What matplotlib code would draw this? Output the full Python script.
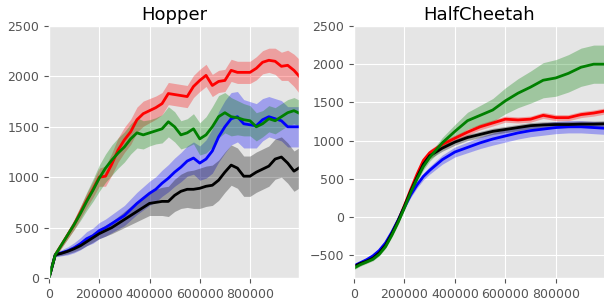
import numpy as np
import matplotlib
matplotlib.use('Agg')
import matplotlib.pyplot as plt

plt.style.use('ggplot')

# Hopper: steps every 25k
hop_steps = np.arange(0, 1000001, 25000)
hop_red = [0, 230, 330, 430, 530, 650, 770, 880, 1000, 1010, 1130, 1270, 1370, 1450, 1570,
           1630, 1660, 1690, 1730, 1830, 1820, 1810, 1800, 1900, 1960, 2010, 1910, 1950,
           1960, 2060, 2040, 2040, 2040, 2080, 2140, 2160, 2150, 2100, 2110, 2060, 1990]
hop_red_sd = [0, 20, 30, 40, 50, 60, 70, 80, 90, 100, 110, 120, 125, 125, 125,
              125, 120, 115, 110, 110, 110, 110, 110, 110, 110, 110, 110, 110,
              110, 110, 110, 110, 110, 115, 115, 120, 130, 140, 150, 160, 170]
hop_green = [0, 230, 330, 430, 530, 640, 760, 870, 990, 1090, 1170, 1240, 1300, 1380, 1440,
             1420, 1440, 1460, 1480, 1550, 1500, 1420, 1440, 1480, 1380, 1420, 1500, 1600,
             1640, 1600, 1590, 1570, 1560, 1500, 1530, 1580, 1560, 1600, 1640, 1660, 1630]
hop_green_sd = [0, 20, 30, 40, 50, 70, 90, 110, 130, 140, 150, 150, 150, 150, 150,
                140, 130, 130, 140, 150, 150, 140, 140, 150, 160, 180, 200, 210,
                200, 190, 170, 160, 150, 140, 130, 130, 130, 130, 130, 130, 130]
hop_blue = [0, 230, 250, 270, 300, 340, 390, 420, 470, 500, 540, 580, 620, 680, 740,
            790, 840, 880, 940, 990, 1050, 1100, 1160, 1190, 1140, 1180, 1260, 1400,
            1500, 1580, 1600, 1530, 1520, 1510, 1570, 1600, 1580, 1560, 1500, 1500, 1500]
hop_blue_sd = [0, 20, 30, 40, 50, 60, 70, 75, 80, 85, 90, 95, 100, 105, 110,
               115, 120, 125, 130, 135, 140, 145, 150, 160, 170, 190, 220, 250,
               260, 260, 250, 240, 230, 220, 210, 200, 200, 200, 200, 200, 200]
hop_black = [0, 230, 245, 265, 290, 320, 360, 400, 440, 470, 500, 540, 580, 620, 660,
             700, 740, 750, 760, 760, 820, 860, 880, 880, 890, 910, 920, 970,
             1050, 1120, 1090, 1010, 1010, 1050, 1080, 1110, 1180, 1200, 1140, 1060, 1100]
hop_black_sd = [0, 15, 20, 25, 30, 35, 40, 45, 50, 55, 60, 70, 80, 90, 100,
                110, 120, 130, 140, 150, 160, 170, 180, 190, 200, 200, 200, 200,
                200, 200, 200, 200, 200, 200, 200, 200, 200, 200, 200, 200, 200]

# HalfCheetah: finer steps during the fast rise, then every 50k
hc_steps = [0, 25000, 50000, 75000, 100000, 125000, 150000, 175000, 200000, 225000,
            250000, 275000, 300000, 350000, 400000, 450000, 500000, 550000, 600000,
            650000, 700000, 750000, 800000, 850000, 900000, 950000, 1000000]
hc_red = [-650, -610, -580, -540, -470, -370, -220, -50, 150, 360, 560, 740, 840,
          950, 1030, 1110, 1180, 1230, 1280, 1270, 1280, 1330, 1300, 1300, 1340, 1360, 1390]
hc_red_sd = [20, 20, 20, 20, 20, 22, 25, 28, 30, 32, 35, 38, 40,
             40, 40, 40, 40, 40, 40, 40, 40, 40, 40, 40, 40, 40, 40]
hc_green = [-670, -625, -590, -555, -490, -390, -240, -70, 120, 320, 500, 660, 780,
            970, 1120, 1260, 1330, 1400, 1520, 1620, 1700, 1790, 1820, 1880, 1960, 2000, 2000]
hc_green_sd = [20, 20, 20, 20, 20, 22, 25, 28, 30, 35, 40, 45, 50,
               70, 90, 110, 130, 150, 170, 190, 210, 230, 240, 245, 250, 250, 250]
hc_blue = [-640, -600, -560, -510, -440, -340, -200, -40, 130, 290, 420, 530, 610,
           750, 850, 910, 970, 1020, 1060, 1100, 1130, 1150, 1170, 1180, 1180, 1170, 1160]
hc_blue_sd = [20, 20, 20, 20, 20, 22, 25, 28, 30, 35, 40, 45, 50,
              60, 65, 70, 75, 80, 80, 80, 80, 80, 80, 80, 80, 80, 80]
hc_black = [-650, -610, -580, -540, -470, -370, -220, -50, 140, 340, 520, 690, 800,
            900, 980, 1040, 1080, 1120, 1145, 1170, 1195, 1205, 1210, 1210, 1215, 1215, 1220]
hc_black_sd = [20, 20, 20, 20, 20, 22, 25, 28, 30, 32, 35, 38, 40,
               40, 40, 40, 40, 40, 40, 40, 40, 40, 40, 40, 40, 40, 40]

fig = plt.figure(figsize=(6.04, 3.0), dpi=100)
ax1 = fig.add_axes([49 / 604, 22 / 300, 250 / 604, 252 / 300])
ax2 = fig.add_axes([354 / 604, 22 / 300, 251 / 604, 252 / 300])


def draw(ax, x, series):
    for mean, sd, c in series:
        mean = np.array(mean, dtype=float)
        sd = np.array(sd, dtype=float)
        ax.fill_between(x, mean - sd, mean + sd, color=c, alpha=0.3, linewidth=0)
        ax.plot(x, mean, color=c, linewidth=2)


draw(ax1, hop_steps, [(hop_red, hop_red_sd, 'r'), (hop_blue, hop_blue_sd, 'b'),
                      (hop_black, hop_black_sd, 'k'), (hop_green, hop_green_sd, 'g')])
draw(ax2, hc_steps, [(hc_red, hc_red_sd, 'r'), (hc_blue, hc_blue_sd, 'b'),
                     (hc_black, hc_black_sd, 'k'), (hc_green, hc_green_sd, 'g')])

ax1.set_title('Hopper', fontsize=13, color='black', pad=4)
ax2.set_title('HalfCheetah', fontsize=13, color='black', pad=4)
ax1.set_ylim(0, 2500)
ax2.set_ylim(-800, 2500)
for ax in (ax1, ax2):
    ax.set_xlim(0, 995000)
    ax.set_xticks([0, 200000, 400000, 600000, 800000])
    ax.ticklabel_format(style='plain', axis='x')
    ax.tick_params(labelsize=9, colors='#555555')

fig.savefig('out.png', dpi=100)
